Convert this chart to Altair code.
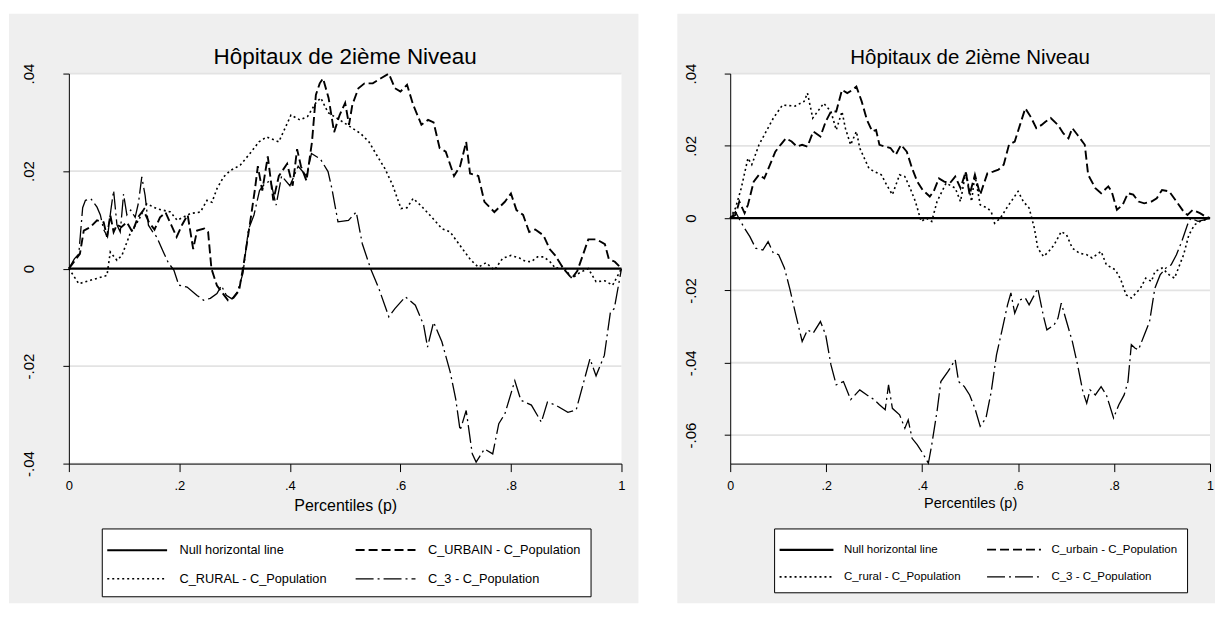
import altair as alt
import pandas as pd

RF = "Liberation Sans, Arial, Helvetica, sans-serif"
GRAY = "#EFEFEF"
GRIDC = "#E3E3E3"

TITLE = "Hôpitaux de 2ième Niveau"
X_TITLE = "Percentiles (p)"
X_TICKS = [0, 0.2, 0.4, 0.6, 0.8, 1]

# ---------------- left panel ----------------
L_NAMES = ["Null horizontal line", "C_URBAIN - C_Population",
           "C_RURAL - C_Population", "C_3 - C_Population"]
L_YTICKS = [-0.04, -0.02, 0, 0.02, 0.04]
L_YDOM = [-0.04, 0.04]

null_p = [0, 1]
null_v = [0, 0]

l_urb_p = [0, .01, .02, .027, .039, .051, .063, .069, .075, .081, .087, .095, .105, .115, .125, .135,
           .145, .155, .165, .175, .185, .195, .205, .215, .225, .232, .245, .252, .258, .268, .278,
           .288, .298, .308, .315, .322, .33, .337, .342, .35, .36, .37, .38, .395, .405, .413, .42,
           .43, .44, .447, .454, .46, .47, .48, .49, .50, .507, .513, .524, .535, .55, .564, .579,
           .59, .60, .612, .623, .638, .65, .66, .671, .682, .697, .708, .719, .726, .741, .752, .77,
           .789, .80, .81, .822, .833, .844, .859, .87, .88, .895, .91, .92, .93, .94, .955, .97,
           .977, .988, 1.0]
l_urb_v = [0, .0015, .003, .0078, .0085, .0099, .0095, .0065, .011, .0075, .009, .0085, .0095, .0075,
           .0105, .012, .0095, .008, .0105, .0115, .009, .0065, .009, .011, .004, .0078, .0082, .0075,
           0, -.0035, -.005, -.0065, -.006, -.0045, 0, .005, .011, .0165, .021, .016, .023, .014,
           .019, .0215, .017, .0245, .021, .018, .026, .0356, .038, .039, .035, .028, .0315, .034,
           .0295, .0336, .037, .038, .038, .039, .040, .037, .0363, .0377, .0336, .0295, .0305, .030,
           .0247, .024, .019, .021, .026, .0195, .019, .0137, .0116, .0137, .0154, .012, .011, .0075,
           .008, .0068, .004, .0027, 0, -.002, -.0005, .0027, .006, .006, .005, .002, .0014, 0]

l_rur_p = [0, .018, .039, .069, .075, .087, .096, .111, .126, .141, .159, .184, .196, .208, .22, .238,
           .25, .259, .268, .28, .292, .31, .327, .344, .358, .38, .402, .418, .432, .447, .456, .469,
           .49, .513, .528, .543, .557, .572, .586, .601, .612, .623, .638, .653, .675, .69, .712,
           .727, .741, .755, .77, .785, .80, .815, .826, .837, .848, .859, .87, .881, .895, .91, .925,
           .94, .954, .97, .984, 1.0]
l_rur_v = [0, -.0031, -.0024, -.0014, .0034, .0017, .0027, .0072, .0099, .0133, .0123, .0116, .0099,
           .0106, .0113, .0116, .014, .0136, .0164, .0188, .0201, .0212, .0235, .026, .027, .026,
           .0315, .0305, .0312, .034, .035, .032, .0305, .0288, .0277, .026, .0233, .0205, .0171,
           .0123, .0125, .0144, .0128, .011, .0082, .0075, .0041, .0018, .0003, .0012, -.0003, .0021,
           .0027, .0022, .0015, .0014, .0024, .0024, .0015, 0, .0005, -.002, -.0008, 0, -.0027,
           -.0025, -.0034, 0]

l_c3_p = [0, .01, .018, .025, .03, .04, .051, .057, .063, .07, .076, .081, .087, .093, .099, .105,
          .112, .12, .126, .132, .138, .144, .152, .159, .171, .18, .19, .199, .214, .232, .244, .256,
          .268, .276, .285, .295, .305, .315, .325, .335, .345, .355, .365, .375, .385, .40, .415,
          .43, .439, .455, .469, .476, .487, .506, .52, .531, .546, .561, .579, .59, .609, .627,
          .642, .649, .66, .675, .69, .70, .708, .719, .73, .737, .752, .767, .778, .789, .807, .818,
          .837, .855, .866, .881, .903, .918, .943, .954, .969, .98, .987, 1.0]
l_c3_v = [0, .002, .003, .0125, .014, .0143, .0126, .011, .008, .0065, .012, .016, .009, .0075, .0153,
          .011, .012, .0105, .0135, .0188, .015, .0089, .0075, .0065, .0034, .0012, -.0003, -.0034,
          -.0038, -.0055, -.0065, -.0061, -.0051, -.0035, -.0055, -.0062, -.0048, -.001, .008, .011,
          .016, .0175, .018, .013, .019, .017, .021, .019, .0236, .0225, .0199, .0164, .0096, .0099,
          .0116, .0051, 0, -.0041, -.0099, -.0082, -.0058, -.0075, -.0116, -.0161, -.011, -.015,
          -.0212, -.0267, -.0332, -.0291, -.038, -.0397, -.037, -.038, -.0318, -.0298, -.023, -.027,
          -.028, -.0315, -.0274, -.028, -.0295, -.029, -.0185, -.022, -.0178, -.0089, -.0082, 0]

# ---------------- right panel ----------------
R_NAMES = ["Null horizontal line", "C_urbain - C_Population",
           "C_rural - C_Population", "C_3 - C_Population"]
R_YTICKS = [-0.06, -0.04, -0.02, 0, 0.02, 0.04]
R_YDOM = [-0.0679, 0.04]

r_urb_p = [0, .011, .019, .03, .037, .049, .06, .071, .083, .094, .105, .116, .128, .139, .15, .161,
           .173, .188, .199, .21, .221, .233, .244, .255, .263, .274, .285, .296, .304, .311, .323,
           .334, .345, .356, .368, .379, .39, .401, .416, .424, .435, .446, .458, .469, .48, .491,
           .499, .51, .521, .536, .548, .559, .57, .581, .593, .604, .615, .626, .638, .649, .657,
           .668, .683, .694, .705, .713, .724, .739, .746, .761, .773, .788, .795, .806, .818, .829,
           .84, .851, .863, .878, .889, .90, .915, .93, .945, .953, .964, .979, .99, 1.0]
r_urb_v = [0, .0009, .0046, .0014, .0037, .0101, .012, .011, .0148, .0184, .0203, .0221, .0212, .0198,
           .0203, .0198, .024, .0226, .0267, .0295, .0295, .0355, .0346, .0355, .0364, .0323, .0272,
           .024, .0244, .0203, .0198, .0194, .0175, .0203, .0184, .0138, .0101, .0078, .006, .0074,
           .011, .0101, .0097, .0115, .0083, .0129, .0065, .012, .0065, .0124, .0129, .0134, .0148,
           .0203, .0212, .0258, .0304, .0281, .0249, .0258, .0267, .0277, .0258, .0235, .0221, .0249,
           .023, .0203, .012, .0083, .0069, .0088, .0074, .0023, .0037, .0069, .0065, .0046, .0041,
           .0046, .0055, .0078, .0074, .0046, .0018, .0009, .0023, .0014, .0005, 0]

r_rur_p = [0, .011, .023, .037, .045, .06, .079, .09, .109, .135, .154, .161, .172, .195, .21, .221,
           .233, .24, .251, .263, .27, .289, .30, .315, .326, .338, .353, .364, .375, .386, .398,
           .409, .42, .431, .45, .469, .48, .491, .503, .51, .521, .536, .544, .551, .563, .578, .60,
           .611, .623, .634, .641, .653, .664, .675, .69, .701, .713, .728, .743, .754, .773, .784,
           .803, .814, .825, .836, .855, .866, .878, .885, .90, .915, .926, .945, .956, .968, .979,
           1.0]
r_rur_v = [0, .0028, .0083, .0166, .0148, .0203, .025, .0277, .0313, .031, .0323, .0346, .0277, .0318,
           .0295, .0244, .0295, .0249, .0203, .024, .0194, .0138, .0129, .012, .0092, .0065, .012,
           .0115, .0083, .0046, -.0009, 0, -.0009, .0046, .0097, .0083, .0046, .0129, .0046, .012,
           .0037, .0028, .0018, -.0014, 0, .0032, .0074, .0046, .0028, -.0028, -.0083, -.0106,
           -.0092, -.0074, -.0037, -.0046, -.0083, -.0097, -.0101, -.011, -.0092, -.0129, -.0143,
           -.017, -.0212, -.0221, -.0194, -.0166, -.0175, -.0148, -.0138, -.0157, -.0166, -.0101,
           -.0046, -.0018, -.0009, 0]

r_c3_p = [0, .011, .02, .03, .041, .053, .068, .079, .09, .101, .113, .124, .135, .15, .161, .173,
          .188, .199, .21, .221, .236, .251, .27, .285, .30, .311, .323, .33, .338, .353, .364, .371,
          .379, .39, .401, .413, .42, .431, .439, .454, .469, .476, .488, .499, .51, .521, .533, .544,
          .555, .566, .578, .585, .593, .604, .615, .623, .634, .641, .653, .66, .675, .683, .69,
          .701, .713, .724, .735, .743, .75, .761, .773, .784, .799, .81, .821, .829, .836, .844,
          .851, .863, .874, .885, .896, .908, .919, .93, .941, .953, .96, .975, .988, 1.0]
r_c3_v = [0, .0018, -.0005, -.0028, -.0051, -.0083, -.0088, -.0065, -.0097, -.0101, -.0138, -.0194,
          -.0258, -.0341, -.0309, -.0318, -.0286, -.0323, -.0406, -.0461, -.0452, -.0502, -.0475,
          -.0489, -.0502, -.0516, -.053, -.0461, -.0526, -.0544, -.0581, -.0558, -.0609, -.0627,
          -.065, -.0678, -.0627, -.0535, -.0452, -.0424, -.0392, -.0452, -.0466, -.0489, -.0526,
          -.0576, -.0553, -.048, -.0378, -.0313, -.024, -.0207, -.0263, -.0226, -.0221, -.024,
          -.0212, -.0194, -.0272, -.0309, -.0295, -.0277, -.0235, -.0286, -.0341, -.0406, -.048,
          -.0512, -.0475, -.0489, -.0466, -.0489, -.0553, -.0516, -.0489, -.0452, -.035, -.036,
          -.0364, -.0323, -.0286, -.0194, -.0157, -.0138, -.0129, -.0101, -.0065, -.0018, 0,
          -.0009, -.0005, 0]

DASHES = [[1, 0], [9, 4], [2, 3], [18, 4, 2, 4]]
WIDTHS = [2.2, 1.3, 1.3, 1.3]


def series_df(names, ps, vs):
    rows = []
    for name, p, v in zip(names, ps, vs):
        assert len(p) == len(v), name
        rows += [{"p": a, "v": b, "s": name} for a, b in zip(p, v)]
    return pd.DataFrame(rows)


def panel(df, names, W, H, ydom, yticks, left_ext, right_ext, fs_title, fs_tick, fs_xt,
          leg_x, fs_leg, leg_offset, sym_path, col_pad):
    one = pd.DataFrame({"k": [0]})
    bg = alt.Chart(one).mark_rect(color=GRAY).encode(
        x=alt.value(-left_ext), x2=alt.value(W + right_ext),
        y=alt.value(-60), y2=alt.value(H + 140))
    white = alt.Chart(one).mark_rect(color="white").encode(
        x=alt.value(0), x2=alt.value(W), y=alt.value(0), y2=alt.value(H))
    title = alt.Chart(one).mark_text(
        text=TITLE, font=RF, fontSize=fs_title, color="black",
        align="center", baseline="alphabetic").encode(
        x=alt.value(W / 2), y=alt.value(-10))

    yscale = alt.Scale(domain=ydom, nice=False, zero=False)
    yaxis = alt.Axis(
        values=yticks,
        labelExpr="(datum.value < 0 ? '-' : '') + replace(format(abs(datum.value), '.2~f'), '0.', '.')",
        labelAngle=270, labelAlign="center", labelBaseline="bottom",
        labelFont=RF, labelFontSize=15, labelColor="black", labelPadding=26,
        tickSize=6, tickColor="black", tickWidth=1,
        domainColor="black", domainWidth=1, grid=False, zindex=1,
        labelFlush=False, labelOverlap=False)
    xaxis = alt.Axis(
        values=X_TICKS,
        labelExpr="replace(format(datum.value, '.1~f'), '0.', '.')",
        labelFont=RF, labelFontSize=fs_tick, labelColor="black", labelPadding=8,
        tickSize=8, tickColor="black", tickWidth=1,
        domainColor="black", domainWidth=1, grid=False, zindex=1,
        labelFlush=False, labelOverlap=False,
        titleFont=RF, titleFontSize=fs_xt, titleFontWeight="normal",
        titleColor="black", titlePadding=5)

    grid = alt.Chart(pd.DataFrame({"g": [t for t in yticks if t != 0]})).mark_rule(
        color=GRIDC, strokeWidth=1.8).encode(
        y=alt.Y("g:Q", scale=yscale, axis=yaxis, title=None))

    leg = alt.Legend(
        orient="none", legendX=leg_x, legendY=456, columns=2, direction="horizontal",
        strokeColor="black", fillColor="white", padding=10,
        labelFont=RF, labelFontSize=fs_leg, labelColor="black", labelLimit=400,
        labelOffset=leg_offset, symbolType=sym_path, symbolSize=400,
        symbolStrokeColor="black", columnPadding=col_pad, rowPadding=10.5)

    lines = alt.Chart(df).mark_line(color="black").encode(
        x=alt.X("p:Q", scale=alt.Scale(domain=[0, 1], nice=False, zero=False),
                axis=xaxis, title=X_TITLE),
        y=alt.Y("v:Q", scale=yscale, axis=yaxis, title=None),
        strokeDash=alt.StrokeDash("s:N", scale=alt.Scale(domain=names, range=DASHES),
                                  legend=leg, title=None),
        strokeWidth=alt.StrokeWidth("s:N", scale=alt.Scale(domain=names, range=WIDTHS),
                                    legend=leg, title=None),
    )
    return alt.layer(bg, white, grid, lines, title).properties(width=W, height=H)


left_df = series_df(L_NAMES, [null_p, l_urb_p, l_rur_p, l_c3_p],
                    [null_v, l_urb_v, l_rur_v, l_c3_v])
right_df = series_df(R_NAMES, [null_p, r_urb_p, r_rur_p, r_c3_p],
                     [null_v, r_urb_v, r_rur_v, r_c3_v])

left = panel(left_df, L_NAMES, 554, 391, L_YDOM, L_YTICKS, 60, 17, 22.5, 13, 16,
             33, 12.8, 45, "M-1.6,0H4.4", 24)
right = panel(right_df, R_NAMES, 481, 391, R_YDOM, R_YTICKS, 53, 5, 20.5, 12.5, 14.5,
              44, 11.5, 37, "M-1.6,0H3.8", 22)

chart = alt.hconcat(left, right, spacing=37).resolve_scale(
    x="independent", y="independent", strokeDash="independent", strokeWidth="independent"
).resolve_legend(
    strokeDash="independent", strokeWidth="independent"
).properties(
    padding={"left": 0, "top": 4, "right": 0, "bottom": 0}, background="white"
).configure_view(stroke="transparent")

chart.save("out.html", embed_options={"renderer": "svg", "actions": False})
